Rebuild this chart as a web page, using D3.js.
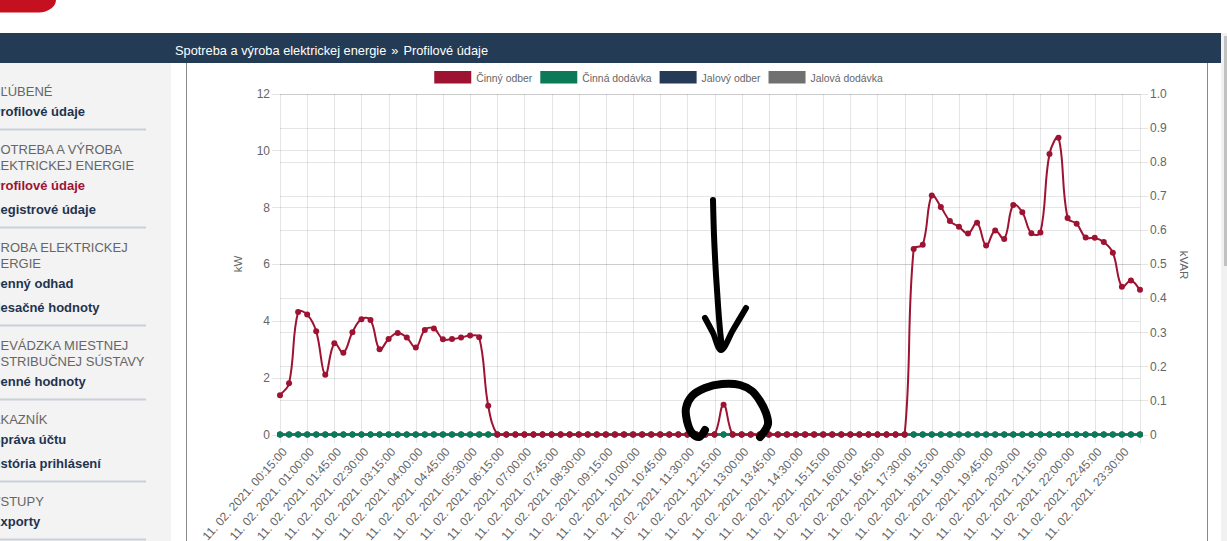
<!DOCTYPE html>
<html><head><meta charset="utf-8">
<script src="https://cdn.jsdelivr.net/npm/d3@7"></script>
<style>
body{margin:0;overflow:hidden;background:#fff}
svg{display:block;font-family:"Liberation Sans",Arial,sans-serif}
</style></head>
<body><svg id="c" width="1227" height="541"></svg>
<script>
// ---------------- DATA ----------------
const times = ["00:15","00:30","00:45","01:00","01:15","01:30","01:45","02:00","02:15","02:30","02:45","03:00",
"03:15","03:30","03:45","04:00","04:15","04:30","04:45","05:00","05:15","05:30","05:45","06:00",
"06:15","06:30","06:45","07:00","07:15","07:30","07:45","08:00","08:15","08:30","08:45","09:00",
"09:15","09:30","09:45","10:00","10:15","10:30","10:45","11:00","11:15","11:30","11:45","12:00",
"12:15","12:30","12:45","13:00","13:15","13:30","13:45","14:00","14:15","14:30","14:45","15:00",
"15:15","15:30","15:45","16:00","16:15","16:30","16:45","17:00","17:15","17:30","17:45","18:00",
"18:15","18:30","18:45","19:00","19:15","19:30","19:45","20:00","20:15","20:30","20:45","21:00",
"21:15","21:30","21:45","22:00","22:15","22:30","22:45","23:00","23:15","23:30","23:45","00:00"];
const dates = ["11. 02. 2021.","12. 02. 2021."];
const categories = times.map((t,i)=> (i===times.length-1?dates[1]:dates[0])+" "+t+":00");

// Činný odber (kW)
const cinnyOdber = [1.38,1.80,4.31,4.22,3.63,2.10,3.21,2.88,3.60,4.06,4.03,3.00,
3.36,3.57,3.41,3.06,3.68,3.73,3.35,3.36,3.41,3.48,3.42,1.01,
0,0,0,0,0,0,0,0,0,0,0,0,
0,0,0,0,0,0,0,0,0,0,0,0,
0,1.05,0,0,0,0,0,0,0,0,0,0,
0,0,0,0,0,0,0,0,0,0,6.53,6.68,
8.41,8.01,7.51,7.31,7.07,7.45,6.65,7.18,6.88,8.08,7.82,7.08,
7.11,9.87,10.44,7.62,7.42,6.93,6.92,6.77,6.40,5.20,5.42,5.09];
// Činná dodávka (kW)
const cinnaDodavka = [0,0,0,0,0,0,0,0,0,0,0,0,0,0,0,0,0,0,0,0,0,0,0,0,
0,0,0,0,0,0,0,0,0,0,0,0,0,0,0,0,0,0,0,0,0,0,0,0,
0,0,0,0,0,0,0,0,0,0,0,0,0,0,0,0,0,0,0,0,0,0,0,0,
0,0,0,0,0,0,0,0,0,0,0,0,0,0,0,0,0,0,0,0,0,0,0,0];
// Jalový odber (kVAR)
const jalovyOdber = [0,0,0,0,0,0,0,0,0,0,0,0,0,0,0,0,0,0,0,0,0,0,0,0,
0,0,0,0,0,0,0,0,0,0,0,0,0,0,0,0,0,0,0,0,0,0,0,0,
0,0,0,0,0,0,0,0,0,0,0,0,0,0,0,0,0,0,0,0,0,0,0,0,
0,0,0,0,0,0,0,0,0,0,0,0,0,0,0,0,0,0,0,0,0,0,0,0];
// Jalová dodávka (kVAR)
const jalovaDodavka = [0,0,0,0,0,0,0,0,0,0,0,0,0,0,0,0,0,0,0,0,0,0,0,0,
0,0,0,0,0,0,0,0,0,0,0,0,0,0,0,0,0,0,0,0,0,0,0,0,
0,0,0,0,0,0,0,0,0,0,0,0,0,0,0,0,0,0,0,0,0,0,0,0,
0,0,0,0,0,0,0,0,0,0,0,0,0,0,0,0,0,0,0,0,0,0,0,0];

const seriesNames = ["Činný odber","Činná dodávka","Jalový odber","Jalová dodávka"];
const kwTicks = [0,2,4,6,8,10,12];
const kvarTicks = [0,0.1,0.2,0.3,0.4,0.5,0.6,0.7,0.8,0.9,1.0];
const axisTitles = ["kW","kVAR"];
const breadcrumb = ["Spotreba a výroba elektrickej energie","»","Profilové údaje"];

// sidebar menu: [text, hidden leading chars]
const menu = [
  {head:[["OBĽÚBENÉ",2]], items:[["Profilové údaje",1]]},
  {head:[["SPOTREBA A VÝROBA",2],["ELEKTRICKEJ ENERGIE",2]], items:[["Profilové údaje",1,true],["Registrové údaje",1]]},
  {head:[["VÝROBA ELEKTRICKEJ",2],["ENERGIE",2]], items:[["Denný odhad",1],["Mesačné hodnoty",1]]},
  {head:[["PREVÁDZKA MIESTNEJ",2],["DISTRIBUČNEJ SÚSTAVY",2]], items:[["Denné hodnoty",1]]},
  {head:[["ZÁKAZNÍK",2]], items:[["Správa účtu",1],["História prihlásení",2]]},
  {head:[["VSTUPY",1]], items:[["Exporty",1]]}
];

// ---------------- STYLE ----------------
const colors = ["#9e1232","#0b7b57","#243a56","#707070"];
const navy = "#243b55";
const W=1227,H=541;
const plot = {left:280, right:1140, top:93.5, bottom:434.5};
const gridColor = "rgba(0,0,0,0.1)";
const tickColor = "#666";

const svg = d3.select("#c");

// ---------- page chrome ----------
svg.append("rect").attr("width",W).attr("height",H).attr("fill","#fff");
svg.append("path").attr("d","M0,0 H56 A17 13 0 0 1 39 12.5 H0 Z").attr("fill","#c4101f");
svg.append("rect").attr("x",0).attr("y",33).attr("width",1221).attr("height",30).attr("fill",navy);
const bc = svg.append("text").attr("x",175).attr("y",54.5).attr("fill","#fff").style("font-size","12.8px");
bc.append("tspan").text(breadcrumb[0]);
bc.append("tspan").attr("dx",5).text(breadcrumb[1]);
bc.append("tspan").attr("dx",5).text(breadcrumb[2]);

// scrollbar
svg.append("rect").attr("x",1221).attr("y",33).attr("width",6).attr("height",508).attr("fill","#f1f1f1");
svg.append("rect").attr("x",1224).attr("y",36).attr("width",3).attr("height",230).attr("fill","#c1c1c1");

// sidebar
svg.append("rect").attr("x",0).attr("y",63).attr("width",171).attr("height",H-63).attr("fill","#f3f3f3");
svg.append("line").attr("x1",186.5).attr("x2",186.5).attr("y1",63).attr("y2",H).attr("stroke","#8a8a8a");
svg.append("line").attr("x1",1207.5).attr("x2",1207.5).attr("y1",63).attr("y2",H).attr("stroke","#8a8a8a");

const side = svg.append("g");
let cy = 91.5;
menu.forEach((sec,si)=>{
  if(si>0) cy += 20;
  sec.head.forEach((h,hi)=>{
    if(hi>0) cy += 16;
    const t = side.append("text").attr("y",cy+4.6).attr("fill","#666")
      .style("font-size","13px").text(h[0]);
    t.attr("x",0.5 - t.node().getSubStringLength(0,h[1]));
  });
  sec.items.forEach((it,ii)=>{
    cy += ii===0?20:24;
    const t = side.append("text").attr("y",cy+4.6).attr("fill",it[2]?"#9e1232":"#1f3350")
      .style("font-size","13px").style("font-weight","bold").text(it[0]);
    t.attr("x",0.5 - t.node().getSubStringLength(0,it[1]));
  });
  cy += 18;
  side.append("rect").attr("x",0).attr("y",cy-1).attr("width",146).attr("height",2).attr("fill","#c9d0d8");
});

// ---------- chart ----------
const x = d3.scalePoint().domain(categories).range([plot.left,plot.right]);
const yL = d3.scaleLinear().domain([0,12]).range([plot.bottom,plot.top]);
const yR = d3.scaleLinear().domain([0,1]).range([plot.bottom,plot.top]);
const pw = plot.right-plot.left, ph = plot.bottom-plot.top;

const chart = svg.append("g");
const shownCats = categories.filter((d,i)=>i%3===0 && i<categories.length-1);

function styleAxis(g){
  g.select(".domain").remove();
  g.selectAll("line").attr("stroke",gridColor).attr("shape-rendering","crispEdges");
  g.selectAll("text").attr("fill",tickColor).style("font-size","12px").style("font-family","Liberation Sans, Arial, sans-serif");
}
// grids
chart.append("g").attr("transform",`translate(0,${plot.bottom})`)
  .call(d3.axisBottom(x).tickValues(shownCats).tickSize(-ph).tickFormat("")).call(styleAxis);
chart.append("g").attr("transform",`translate(${plot.left},0)`)
  .call(d3.axisLeft(yL).tickValues(kwTicks).tickSize(-pw).tickFormat("")).call(styleAxis);
chart.append("g").attr("transform",`translate(${plot.right},0)`)
  .call(d3.axisRight(yR).tickValues(kvarTicks).tickSize(-pw).tickFormat("")).call(styleAxis);
chart.append("line").attr("x1",plot.right).attr("x2",plot.right).attr("y1",plot.top).attr("y2",plot.bottom+8)
  .attr("stroke",gridColor).attr("shape-rendering","crispEdges");

// ticks + labels
chart.append("g").attr("transform",`translate(${plot.left},0)`)
  .call(d3.axisLeft(yL).tickValues(kwTicks).tickSize(8).tickPadding(2).tickFormat(d3.format("d"))).call(styleAxis);
chart.append("g").attr("transform",`translate(${plot.right},0)`)
  .call(d3.axisRight(yR).tickValues(kvarTicks).tickSize(8).tickPadding(2).tickFormat(d=>d===0?"0":d3.format(".1f")(d))).call(styleAxis);
const xa = chart.append("g").attr("transform",`translate(0,${plot.bottom})`)
  .call(d3.axisBottom(x).tickValues(shownCats).tickSize(8)).call(styleAxis);
xa.selectAll("text").attr("x",null).attr("y",null).attr("dy","0.35em").attr("text-anchor","end")
  .attr("transform","translate(4,15) rotate(-48)");

// axis titles
chart.append("text").attr("transform","translate(242,264) rotate(-90)").attr("text-anchor","middle")
  .attr("fill",tickColor).style("font-size","11.5px").text(axisTitles[0]);
chart.append("text").attr("transform","translate(1180,265) rotate(90)").attr("text-anchor","middle")
  .attr("fill",tickColor).style("font-size","11.5px").text(axisTitles[1]);

// Chart.js-style spline curve (tension 0.4, capped to chart area)
function chartjsCurve(tension){
  function Curve(ctx){ this._ctx = ctx; }
  Curve.prototype = {
    areaStart(){}, areaEnd(){},
    lineStart(){ this._p = []; },
    point(px,py){ this._p.push([+px,+py]); },
    lineEnd(){
      const p=this._p, n=p.length, c=this._ctx;
      if(!n) return;
      const cap = q=>[Math.max(plot.left,Math.min(plot.right,q[0])),Math.max(plot.top,Math.min(plot.bottom,q[1]))];
      const cp = p.map((cur,i)=>{
        const prev=p[i-1]||cur, next=p[i+1]||cur;
        const d01=Math.hypot(cur[0]-prev[0],cur[1]-prev[1]);
        const d12=Math.hypot(next[0]-cur[0],next[1]-cur[1]);
        let s01=d01/(d01+d12), s12=d12/(d01+d12);
        if(!isFinite(s01)) s01=0; if(!isFinite(s12)) s12=0;
        const fa=tension*s01, fb=tension*s12;
        const dx=next[0]-prev[0], dy=next[1]-prev[1];
        return {pv:cap([cur[0]-fa*dx,cur[1]-fa*dy]), nx:cap([cur[0]+fb*dx,cur[1]+fb*dy])};
      });
      c.moveTo(p[0][0],p[0][1]);
      for(let i=1;i<n;i++) c.bezierCurveTo(cp[i-1].nx[0],cp[i-1].nx[1],cp[i].pv[0],cp[i].pv[1],p[i][0],p[i][1]);
    }
  };
  return ctx=>new Curve(ctx);
}

const datasets = [
  {name:seriesNames[0], values:cinnyOdber, y:yL, color:colors[0]},
  {name:seriesNames[1], values:cinnaDodavka, y:yL, color:colors[1]},
  {name:seriesNames[2], values:jalovyOdber, y:yR, color:colors[2]},
  {name:seriesNames[3], values:jalovaDodavka, y:yR, color:colors[3]}
];
datasets.slice().reverse().forEach(ds=>{
  const g = chart.append("g");
  const line = d3.line().x((d,i)=>x(categories[i])).y(d=>ds.y(d)).curve(chartjsCurve(0.4));
  g.append("path").attr("d",line(ds.values)).attr("fill","none").attr("stroke",ds.color).attr("stroke-width",2);
  g.selectAll("circle").data(ds.values).join("circle")
    .attr("cx",(d,i)=>x(categories[i])).attr("cy",d=>ds.y(d)).attr("r",3)
    .attr("fill",ds.color);
});

// legend
const lg = svg.append("g");
const items = datasets.map(ds=>{
  const g = lg.append("g");
  g.append("rect").attr("width",37).attr("height",12.5).attr("y",71).attr("fill",ds.color);
  const t = g.append("text").attr("x",42).attr("y",81.5).attr("fill",tickColor).style("font-size","10.4px").text(ds.name);
  return {g, w:42+t.node().getComputedTextLength()};
});
const pad = 8;
const total = d3.sum(items,d=>d.w)+pad*(items.length-1);
let lx = 658.5 - total/2;
items.forEach(it=>{ it.g.attr("transform",`translate(${lx},0)`); lx += it.w+pad; });

// hand-drawn annotation (arrow + circle)
const shaft = [[713,200],[714,235],[716,275],[718,305],[720,330],[722,348]];
const head = [[705,318],[713,333],[721,350],[733,330],[746,308]];
const ring = [[705,430],[699,437],[692,433],[687,421],[686,408],[692,396],[705,388],[722,384],[740,385],[752,391],[760,401],[766,413],[768,424],[764,432],[760,437]];
const free = d3.line().curve(d3.curveCatmullRom);
const ann = svg.append("g").attr("fill","none").attr("stroke","#000").attr("stroke-linecap","round").attr("stroke-linejoin","round");
ann.append("path").attr("d",free(shaft)).attr("stroke-width",6);
ann.append("path").attr("d",free(head)).attr("stroke-width",6);
ann.append("path").attr("d",free(ring)).attr("stroke-width",8);
</script></body></html>
